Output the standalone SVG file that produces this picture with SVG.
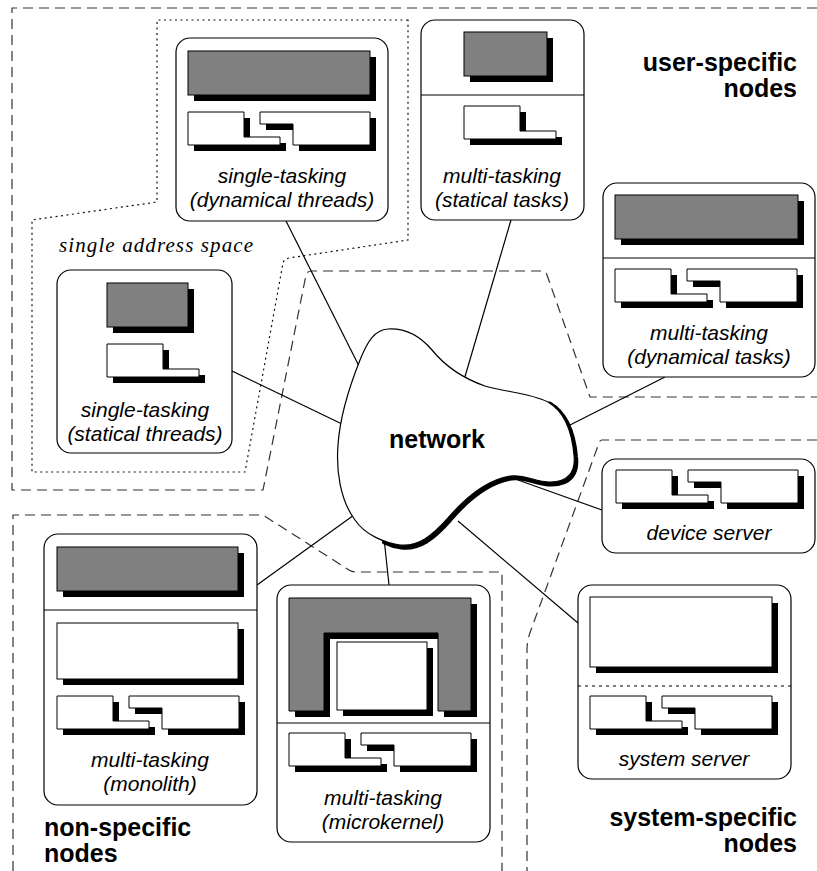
<svg xmlns="http://www.w3.org/2000/svg" xmlns:xlink="http://www.w3.org/1999/xlink" width="817" height="871" viewBox="0 0 817 871">
<style>
.bg{fill:#fff}
.region{fill:none;stroke:#333;stroke-width:1.2;stroke-dasharray:10 6}
.space{fill:none;stroke:#111;stroke-width:1.2;stroke-dasharray:2 3.5}
.box{fill:#fff;stroke:#000;stroke-width:1.2}
.div{stroke:#000;stroke-width:1}
.divdot{stroke:#000;stroke-width:1;stroke-dasharray:3 4}
.gray{fill:#808080;stroke:#000;stroke-width:1}
.white{fill:#fff;stroke:#000;stroke-width:1}
.shadow{fill:#000}
.conn{stroke:#000;stroke-width:1.2;fill:none}
.lbl{font-family:"Liberation Sans",Arial,sans-serif;font-style:italic;font-size:21px;text-anchor:middle;fill:#000}
.big{font-family:"Liberation Sans",Arial,sans-serif;font-weight:bold;font-size:25px;fill:#000}
.cm{font-family:"Liberation Serif","Times New Roman",serif;font-style:italic;font-size:21px;fill:#000}
</style>
<defs>
<g id="single">
<path class="shadow" d="M6,6 H62 V31 H98 V39 H6 Z"/>
<path class="white" d="M0,0 H56 V25 H92 V33 H0 Z"/>
</g>
<g id="pair">
<path class="shadow" d="M6,6 H62 V31 H98 V39 H6 Z"/>
<path class="shadow" d="M78,6 H188 V39 H111 V18 H78 Z"/>
<path class="white" d="M0,0 H56 V25 H92 V33 H0 Z"/>
<path class="white" d="M72,0 H182 V33 H105 V12 H72 Z"/>
</g>
</defs>
<rect class="bg" x="0" y="0" width="817" height="871"/>

<g id="regions">
<path class="region" d="M817,8 H12 V490 H263 L306,275 Q307,271 312,271 H542 Q546,271 547,275 L590,397 H817"/>
<path class="region" d="M13,871 V515 H261 Q264,515 266,517 L349,570 Q352,572 356,572 H502 V871"/>
<path class="region" d="M817,440 H602 Q600,440 599,443 L531,630 Q527,640 527,650 V871"/>
<path class="space" d="M408,20 H157 V202 L32,220 V472 H245 L283,263 Q284,259 289,258 L408,240 Z"/>
<text class="cm" x="59" y="252" textLength="194" lengthAdjust="spacing">single address space</text>
<text class="big" x="797" y="71" text-anchor="end">user-specific</text>
<text class="big" x="797" y="97" text-anchor="end">nodes</text>
<text class="big" x="44" y="836">non-specific</text>
<text class="big" x="44" y="862">nodes</text>
<text class="big" x="797" y="826" text-anchor="end">system-specific</text>
<text class="big" x="797" y="852" text-anchor="end">nodes</text>
</g>

<g id="connectors">
<line class="conn" x1="286" y1="221" x2="360" y2="368"/>
<line class="conn" x1="511" y1="220" x2="464" y2="380"/>
<line class="conn" x1="232" y1="371" x2="342" y2="424"/>
<line class="conn" x1="665" y1="377" x2="566" y2="427"/>
<line class="conn" x1="518" y1="480" x2="602" y2="510"/>
<line class="conn" x1="458" y1="521" x2="578" y2="623"/>
<line class="conn" x1="257" y1="585" x2="354" y2="515"/>
<line class="conn" x1="384" y1="538" x2="389" y2="585"/>
</g>

<g id="network">
<path d="M549.5,404 C566.5,414 573.5,434 575.5,457 C577.5,474 569.5,484 551.5,484 C536.5,484 526.5,476 511.5,478 C486.5,482 466.5,500 449.5,520 C433.5,538 419.5,549 401.5,547 C393.5,546 388.5,544 384.5,542" fill="none" stroke="#000" stroke-width="5" stroke-linecap="round"/>
<path d="M388,329 C405,328 420,336 432,350 C445,366 462,378 485,386 C505,392 530,393 548,402 C565,412 572,432 574,455 C576,472 568,482 550,482 C535,482 525,474 510,476 C485,480 465,498 448,518 C432,536 418,547 400,545 C385,543 365,535 355,520 C340,500 336,470 338,445 C340,415 350,385 360,360 C368,340 375,330 388,329 Z" fill="#fff" stroke="#000" stroke-width="1.2"/>
<text class="big" x="437" y="448" text-anchor="middle">network</text>
</g>

<g id="node-single-dynamical">
<rect class="box" x="176" y="38" width="212" height="183" rx="14"/>
<rect class="shadow" x="194" y="57" width="182" height="44"/>
<rect class="gray" x="188" y="51" width="182" height="44"/>
<use xlink:href="#pair" x="188" y="112"/>
<text class="lbl" x="282" y="183">single-tasking</text>
<text class="lbl" x="282" y="207">(dynamical threads)</text>
</g>

<g id="node-multi-statical">
<rect class="box" x="421" y="20" width="163" height="200" rx="14"/>
<line class="div" x1="421" y1="95" x2="584" y2="95"/>
<rect class="shadow" x="470" y="38" width="83" height="44"/>
<rect class="gray" x="464" y="32" width="83" height="44"/>
<use xlink:href="#single" x="464" y="106"/>
<text class="lbl" x="502" y="183">multi-tasking</text>
<text class="lbl" x="502" y="207">(statical tasks)</text>
</g>

<g id="node-multi-dynamical">
<rect class="box" x="603" y="183" width="212" height="194" rx="14"/>
<line class="div" x1="603" y1="258" x2="815" y2="258"/>
<rect class="shadow" x="621" y="201" width="183" height="44"/>
<rect class="gray" x="615" y="195" width="183" height="44"/>
<use xlink:href="#pair" x="615" y="269"/>
<text class="lbl" x="709" y="340">multi-tasking</text>
<text class="lbl" x="709" y="364">(dynamical tasks)</text>
</g>

<g id="node-single-statical">
<rect class="box" x="57" y="270" width="175" height="183" rx="14"/>
<rect class="shadow" x="113" y="289" width="81" height="44"/>
<rect class="gray" x="107" y="283" width="81" height="44"/>
<use xlink:href="#single" x="107" y="344"/>
<text class="lbl" x="145" y="417">single-tasking</text>
<text class="lbl" x="145" y="441">(statical threads)</text>
</g>

<g id="node-monolith">
<rect class="box" x="44" y="534" width="213" height="271" rx="14"/>
<line class="div" x1="44" y1="610" x2="257" y2="610"/>
<rect class="shadow" x="63" y="553" width="181" height="44"/>
<rect class="gray" x="57" y="547" width="181" height="44"/>
<rect class="shadow" x="63" y="629" width="181" height="56"/>
<rect class="white" x="57" y="623" width="181" height="56"/>
<use xlink:href="#pair" x="57" y="696"/>
<text class="lbl" x="150" y="767">multi-tasking</text>
<text class="lbl" x="150" y="791">(monolith)</text>
</g>

<g id="node-microkernel">
<rect class="box" x="277" y="585" width="213" height="257" rx="14"/>
<line class="div" x1="277" y1="723" x2="490" y2="723"/>
<path class="shadow" d="M295,604 H477 V717 H444 V639 H330 V717 H295 Z"/>
<path class="gray" d="M289,598 H471 V711 H438 V633 H324 V711 H289 Z"/>
<rect class="shadow" x="343" y="648" width="90" height="68"/>
<rect class="white" x="337" y="642" width="90" height="68"/>
<use xlink:href="#pair" x="289" y="733"/>
<text class="lbl" x="383" y="805">multi-tasking</text>
<text class="lbl" x="383" y="829">(microkernel)</text>
</g>

<g id="node-device-server">
<rect class="box" x="602" y="459" width="213" height="94" rx="14"/>
<use xlink:href="#pair" x="616" y="470"/>
<text class="lbl" x="709" y="540">device server</text>
</g>

<g id="node-system-server">
<rect class="box" x="578" y="585" width="213" height="194" rx="14"/>
<line class="divdot" x1="578" y1="686" x2="791" y2="686"/>
<rect class="shadow" x="596" y="603" width="182" height="70"/>
<rect class="white" x="590" y="597" width="182" height="70"/>
<use xlink:href="#pair" x="590" y="696"/>
<text class="lbl" x="684" y="766">system server</text>
</g>
</svg>
